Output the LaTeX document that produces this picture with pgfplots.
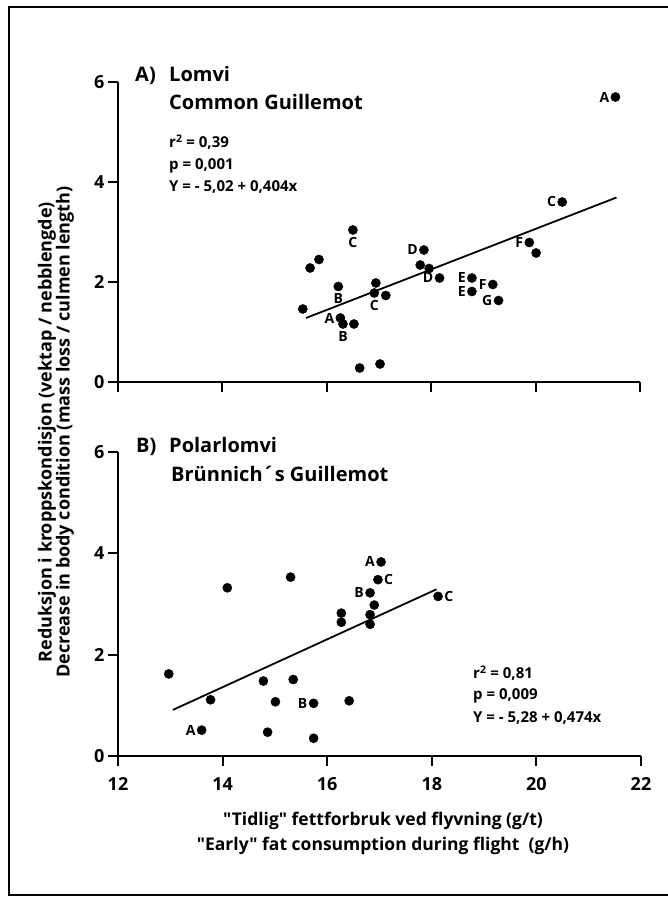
\documentclass[border=0pt]{standalone}
\usepackage{fontspec}
\setmainfont{Open Sans}[Ligatures=TeXOff]
\usepackage{pgfplots}
\pgfplotsset{compat=1.18}

\pgfplotsset{
  guil/.style={
    scale only axis, anchor=south west,
    xmin=12, xmax=22, ymin=0, ymax=6,
    axis x line=bottom, axis y line=left,
    axis line style={-, line width=2pt},
    xtick={12,14,16,18,20,22}, ytick={0,2,4,6},
    xticklabels={12,14,16,18,20,22}, yticklabels={0,2,4,6},
    tick align=outside, major tick length=10pt,
    every tick/.style={black, line width=2pt},
    xticklabel style={font=\fontsize{18}{20}\selectfont\bfseries, yshift=-8pt},
    yticklabel style={font=\fontsize{18}{20}\selectfont\bfseries},
    clip=false,
  },
  dot/.style={only marks, mark=*, mark size=4.6pt, mark options={fill=black, draw=black}},
  lab/.style={dot, point meta=explicit symbolic, nodes near coords,
    every node near coord/.style={font=\fontsize{14}{15}\selectfont\bfseries, inner sep=1pt, #1}},
  fit/.style={black, line width=1.8pt, no marks},
}

\begin{document}
\begin{tikzpicture}[x=1pt,y=1pt]
\useasboundingbox (0,0) rectangle (668,898);
\draw[line width=2.6pt] (672,891) -- (9,891) -- (9,3) -- (672,3);

% A) Lomvi
\begin{axis}[guil, at={(118pt,516pt)}, width=522pt, height=300pt, xticklabels={}]
\addplot[dot] coordinates {(15.85,2.45) (15.68,2.28) (15.54,1.46) (16.52,1.16) (16.63,0.28)
  (17.02,0.36) (16.94,1.98) (17.13,1.73) (17.79,2.34) (17.96,2.27) (20.01,2.58)};
\addplot[lab={anchor=east, xshift=-5pt}] table[meta=l] {
x y l
21.53 5.70 A
20.51 3.60 C
16.26 1.28 A
17.86 2.64 D
18.16 2.08 D
18.78 2.08 E
18.78 1.81 E
19.18 1.95 F
19.29 1.63 G
19.88 2.79 F
};
\addplot[lab={anchor=north, yshift=-6pt}] table[meta=l] {
x y l
16.50 3.04 C
16.22 1.91 B
16.31 1.16 B
16.91 1.78 C
};
\addplot[fit] coordinates {(15.6,1.28) (21.55,3.69)};
\end{axis}

% B) Polarlomvi
\begin{axis}[guil, at={(118pt,142pt)}, width=523pt, height=304pt]
\addplot[dot] coordinates {(12.97,1.62) (13.77,1.11) (14.09,3.32) (15.30,3.53) (14.78,1.48)
  (15.35,1.51) (15.01,1.07) (14.86,0.47) (15.74,0.35) (16.42,1.09) (16.27,2.82)
  (16.27,2.64) (16.90,2.98) (16.82,2.79) (16.82,2.60)};
\addplot[lab={anchor=east, xshift=-5pt}] table[meta=l] {
x y l
13.60 0.51 A
15.74 1.04 B
16.82 3.22 B
17.03 3.83 A
};
\addplot[lab={anchor=west, xshift=5pt}] table[meta=l] {
x y l
16.97 3.48 C
18.12 3.15 C
};
\addplot[fit] coordinates {(13.05,0.91) (18.09,3.29)};
\end{axis}

\begin{scope}[every node/.style={inner sep=0pt, anchor=base west}]
\node[font=\fontsize{20}{24}\selectfont\bfseries] at (135,816) {A)};
\node[font=\fontsize{20}{24}\selectfont\bfseries] at (169,816) {Lomvi};
\node[font=\fontsize{20}{24}\selectfont\bfseries] at (169,788) {Common Guillemot};
\node[font=\fontsize{15}{18}\selectfont\bfseries] at (169,750) {r\textsuperscript{2} = 0,39};
\node[font=\fontsize{15}{18}\selectfont\bfseries] at (169,728) {p = 0,001};
\node[font=\fontsize{15}{18}\selectfont\bfseries] at (169,706) {Y = - 5,02 + 0,404x};
\node[font=\fontsize{20}{24}\selectfont\bfseries] at (136,445) {B)};
\node[font=\fontsize{20}{24}\selectfont\bfseries] at (169,445) {Polarlomvi};
\node[font=\fontsize{20}{24}\selectfont\bfseries] at (171,416) {Brünnich´s Guillemot};
\node[font=\fontsize{15}{18}\selectfont\bfseries] at (473,219) {r\textsuperscript{2} = 0,81};
\node[font=\fontsize{15}{18}\selectfont\bfseries] at (473,198) {p = 0,009};
\node[font=\fontsize{15}{18}\selectfont\bfseries] at (473,175) {Y = - 5,28 + 0,474x};
\end{scope}

\node[rotate=90, align=center, inner sep=0pt, font=\fontsize{18}{18}\selectfont\bfseries]
  at (56,466) {Reduksjon i kroppskondisjon (vektap / nebblengde)\\Decrease in body condition (mass loss / culmen length)};
\node[align=center, inner sep=0pt, font=\fontsize{17.5}{25}\selectfont\bfseries]
  at (383,65) {"Tidlig" fettforbruk ved flyvning (g/t)\\"Early" fat consumption during flight\ \ (g/h)};
\end{tikzpicture}
\end{document}
